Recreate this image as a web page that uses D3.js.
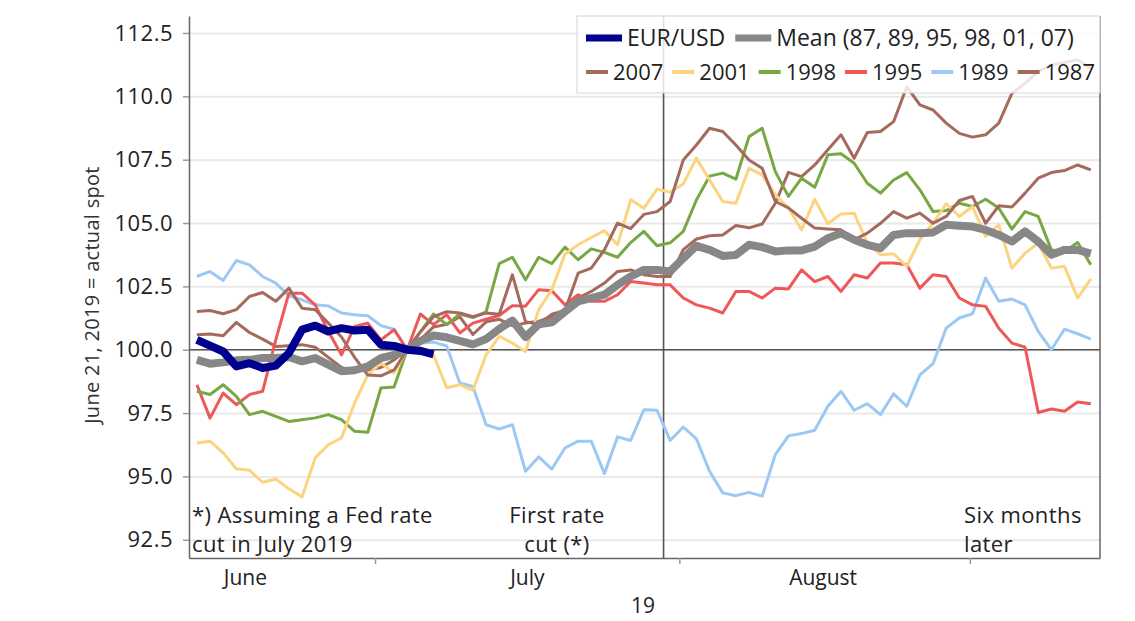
<!DOCTYPE html>
<html>
<head>
<meta charset="utf-8">
<script src="https://cdn.jsdelivr.net/npm/d3@7"></script>
<style>
  html, body { margin: 0; padding: 0; background: #fff; }
  svg { display: block; font-family: "Open Sans", "DejaVu Sans", sans-serif; }
</style>
</head>
<body>
<svg id="chart" width="1135" height="621"></svg>
<script>
// ---------------- data ----------------
// x = observation index (0..68); index 16 = June 21, 2019 (=100)
const eurusd = [100.39,100.16,99.93,99.34,99.47,99.28,99.37,99.87,100.79,100.95,100.72,100.85,100.76,100.79,100.2,100.15,100.0,99.95,99.82];

const meanSeries = [99.6,99.45,99.5,99.58,99.6,99.67,99.67,99.71,99.54,99.67,99.41,99.15,99.19,99.34,99.67,99.8,100.0,100.35,100.56,100.49,100.35,100.21,100.42,100.82,101.15,100.5,101.0,101.08,101.5,101.91,102.04,102.17,102.56,102.89,103.15,103.15,103.09,103.61,104.1,103.94,103.7,103.74,104.14,104.05,103.88,103.92,103.92,104.07,104.4,104.6,104.34,104.14,104.01,104.53,104.6,104.6,104.63,104.93,104.89,104.86,104.73,104.53,104.27,104.67,104.27,103.75,103.94,103.94,103.79];

const y2007 = [101.51,101.55,101.42,101.58,102.1,102.26,101.91,102.43,101.64,101.58,101.05,100.5,99.7,99.0,98.97,99.2,100.0,100.7,101.3,101.5,101.45,101.3,101.45,101.4,102.96,101.1,101.0,101.4,101.55,103.02,103.22,103.94,105.0,104.78,105.34,105.45,105.85,107.49,108.08,108.74,108.61,108.08,107.49,107.16,105.85,105.6,105.19,104.8,104.76,104.73,104.34,104.6,104.99,105.45,105.19,105.39,104.99,105.26,105.89,106.05,104.99,105.68,105.63,106.18,106.77,106.99,107.07,107.29,107.1];

const y2001 = [96.32,96.39,95.93,95.3,95.24,94.77,94.9,94.51,94.19,95.73,96.25,96.52,97.9,99.01,99.47,99.08,100.0,100.1,99.8,98.5,98.62,98.4,99.8,100.53,100.26,99.93,101.58,102.37,103.78,104.14,104.43,104.7,104.14,105.92,105.58,106.34,106.21,106.54,107.56,106.7,105.85,105.78,107.16,106.9,106.11,105.6,104.73,105.94,104.97,105.36,105.39,104.2,103.75,103.79,103.29,104.34,104.99,105.76,105.26,105.65,104.47,104.93,103.22,103.81,104.2,103.22,103.29,102.04,102.79];

const y1998 = [98.36,98.23,98.62,98.16,97.44,97.57,97.37,97.17,97.24,97.31,97.44,97.24,96.78,96.74,98.49,98.53,100.0,100.7,101.41,100.99,101.41,101.27,101.49,103.4,103.65,102.76,103.65,103.4,104.05,103.55,103.98,103.84,103.65,104.23,104.67,104.1,104.22,104.67,105.91,106.85,106.97,106.73,108.41,108.74,107.03,106.05,106.77,106.41,107.69,107.73,107.36,106.57,106.18,106.7,106.99,106.31,105.45,105.49,105.78,105.65,105.94,105.59,104.76,105.45,105.26,103.94,103.88,104.23,103.35];

const y1995 = [98.62,97.3,98.29,97.83,98.23,98.36,100.39,102.23,102.23,101.77,100.72,99.8,100.92,101.05,100.39,100.79,100.0,101.41,100.99,101.38,100.66,101.05,101.2,101.35,101.74,101.72,102.37,102.33,101.77,102.17,101.91,101.91,102.17,102.69,102.63,102.56,102.56,102.04,101.77,101.64,101.45,102.3,102.3,102.04,102.43,102.4,103.15,102.69,102.89,102.3,102.96,102.83,103.42,103.42,103.35,102.43,102.96,102.89,102.04,101.77,101.71,100.85,100.26,100.1,97.52,97.66,97.57,97.94,97.87];

const y1989 = [102.89,103.09,102.73,103.52,103.35,102.89,102.63,102.13,101.97,101.77,101.73,101.45,101.38,101.34,100.95,100.81,100.0,100.25,100.3,100.15,98.69,98.55,97.04,96.87,97.04,95.2,95.77,95.29,96.12,96.39,96.39,95.11,96.56,96.42,97.63,97.61,96.42,96.95,96.48,95.2,94.35,94.24,94.37,94.22,95.86,96.6,96.69,96.82,97.77,98.36,97.61,97.87,97.44,98.26,97.77,99.01,99.45,100.85,101.25,101.42,102.83,101.91,102.0,101.77,100.72,100.0,100.81,100.63,100.42];

const y1987 = [100.59,100.62,100.55,101.08,100.68,100.42,100.13,100.16,100.2,100.1,99.7,99.3,99.15,99.2,99.3,99.6,100.0,100.4,100.9,101.0,101.3,100.6,101.1,101.2,100.95,101.05,101.12,101.31,101.51,102.04,102.3,102.63,103.09,103.15,102.96,102.89,102.89,103.95,104.37,104.5,104.53,104.9,104.81,104.96,105.78,107.0,106.83,107.29,107.89,108.48,107.56,108.57,108.61,109.0,110.38,109.66,109.46,108.94,108.54,108.39,108.48,108.94,110.12,110.51,110.98,111.24,111.33,111.44,111.1];

const yTicks = [92.5, 95.0, 97.5, 100.0, 102.5, 105.0, 107.5, 110.0, 112.5];
const monthTickIdx = [13.55, 36.7, 58.8];
const monthLabels = ["June", "July", "August"];
const monthLabelIdx = [3.65, 25.1, 47.6];
const yearLabel = "19";
const rateCutIdx = 35.5;
const yTitle = "June 21, 2019 = actual spot";

const historyNames = ["2007", "2001", "1998", "1995", "1989", "1987"];
const historyData = [y2007, y2001, y1998, y1995, y1989, y1987];
const historyColors = ["#a56a5d", "#fbd47f", "#77a844", "#ee5858", "#9cc9f4", "#a56a5d"];

// ---------------- layout ----------------
const svg = d3.select("#chart");
const L = 189, R = 1100, T = 16, B = 558;
const x = d3.scaleLinear().domain([-0.6, 68.7]).range([L, R]);
const y = d3.scaleLinear().domain([91.78, 113.17]).range([B, T]);
const FONT = '"Open Sans", "DejaVu Sans", sans-serif';

// grid lines
svg.append("g")
  .attr("transform", `translate(${L},0)`)
  .call(d3.axisLeft(y).tickValues(yTicks).tickSize(-(R - L)).tickFormat(""))
  .call(g => g.select(".domain").remove())
  .call(g => g.selectAll("line").attr("stroke", "#e9e9e9").attr("stroke-width", 2));

// zero line & rate-cut line
svg.append("line").attr("x1", L).attr("x2", R).attr("y1", y(100)).attr("y2", y(100))
  .attr("stroke", "#555").attr("stroke-width", 1.6);
svg.append("line").attr("x1", x(rateCutIdx)).attr("x2", x(rateCutIdx)).attr("y1", T).attr("y2", B)
  .attr("stroke", "#555").attr("stroke-width", 1.6);

// lines
const line = d3.line().x((d, i) => x(i)).y(d => y(d));
const order = [5, 4, 3, 2, 1, 0];
order.forEach(j => {
  svg.append("path").datum(historyData[j])
    .attr("fill", "none").attr("stroke", historyColors[j])
    .attr("stroke-width", 3).attr("stroke-linejoin", "round").attr("d", line);
});
svg.append("path").datum(meanSeries)
  .attr("fill", "none").attr("stroke", "#878787").attr("stroke-width", 8)
  .attr("stroke-linejoin", "round").attr("d", line);
svg.append("path").datum(eurusd)
  .attr("fill", "none").attr("stroke", "#00008f").attr("stroke-width", 8)
  .attr("stroke-linejoin", "round").attr("d", line);

// frame
svg.append("line").attr("x1", R).attr("x2", R).attr("y1", T).attr("y2", B)
  .attr("stroke", "#666").attr("stroke-width", 1.5);

// y axis
const yAxis = svg.append("g")
  .attr("transform", `translate(${L},0)`)
  .call(d3.axisLeft(y).tickValues(yTicks).tickSize(6).tickSizeOuter(0).tickPadding(10).tickFormat(d3.format(".1f")));
yAxis.select(".domain").attr("stroke", "#666").attr("stroke-width", 1.5);
yAxis.selectAll(".tick line").attr("stroke", "#999").attr("stroke-width", 1.5);
yAxis.selectAll("text").attr("font-family", FONT).attr("font-size", 22)
  .attr("letter-spacing", "0.5px").attr("fill", "#222");

// x axis ticks
const xAxis = svg.append("g")
  .attr("transform", `translate(0,${B})`)
  .call(d3.axisBottom(x).tickValues(monthTickIdx).tickSize(6).tickSizeOuter(0).tickFormat(""));
xAxis.select(".domain").attr("stroke", "#666").attr("stroke-width", 1.5);
xAxis.selectAll(".tick line").attr("stroke", "#999").attr("stroke-width", 1.5);

// x month labels
const xLab = svg.append("g")
  .attr("transform", `translate(0,${B})`)
  .call(d3.axisBottom(x).tickValues(monthLabelIdx).tickSize(0).tickPadding(12)
        .tickFormat((d, i) => monthLabels[i]));
xLab.select(".domain").remove();
xLab.selectAll("text").attr("font-family", FONT).attr("font-size", 21).attr("fill", "#222");

svg.append("text").attr("x", 643).attr("y", 613).attr("text-anchor", "middle")
  .attr("font-family", FONT).attr("font-size", 21).attr("fill", "#222").text(yearLabel);

// y title
svg.append("text")
  .attr("transform", `translate(99,295) rotate(-90)`)
  .attr("text-anchor", "middle")
  .attr("font-family", FONT).attr("font-size", 20).attr("letter-spacing", "0.3px").attr("fill", "#333")
  .text(yTitle);

// annotations
const ann = [
  { t: ["*) Assuming a Fed rate", "cut in July 2019"], x: L + 3, anchor: "start" },
  { t: ["First rate", "cut (*)"], x: 557, anchor: "middle" },
  { t: ["Six months", "later"], x: 964, anchor: "start" }
];
ann.forEach(a => {
  a.t.forEach((s, i) => {
    svg.append("text").attr("x", a.x).attr("y", 523 + i * 29)
      .attr("text-anchor", a.anchor)
      .attr("font-family", FONT).attr("font-size", 22).attr("letter-spacing", "0.4px")
      .attr("fill", "#222").text(s);
  });
});

// legend
const lg = svg.append("g");
lg.append("rect").attr("x", 577).attr("y", T).attr("width", R - 577).attr("height", 77)
  .attr("fill", "#fff").attr("fill-opacity", 0.82).attr("stroke", "#d4d4d4").attr("stroke-width", 1);

const legendRows = [
  { items: [{ n: "EUR/USD", c: "#00008f" }, { n: "Mean (87, 89, 95, 98, 01, 07)", c: "#878787" }], y: 38, len: 36, w: 7, fs: 23, gap: 10 },
  { items: historyNames.map((n, i) => ({ n, c: historyColors[i] })), y: 72, len: 22, w: 4, fs: 22, gap: 9 }
];
legendRows.forEach(row => {
  let cx = 586;
  row.items.forEach(it => {
    lg.append("line").attr("x1", cx).attr("x2", cx + row.len).attr("y1", row.y).attr("y2", row.y)
      .attr("stroke", it.c).attr("stroke-width", row.w);
    const t = lg.append("text").attr("x", cx + row.len + 5).attr("y", row.y).attr("dy", "0.36em")
      .attr("font-family", FONT).attr("font-size", row.fs).attr("fill", "#222").text(it.n);
    cx = cx + row.len + 5 + t.node().getComputedTextLength() + row.gap;
  });
});
</script>
</body>
</html>
